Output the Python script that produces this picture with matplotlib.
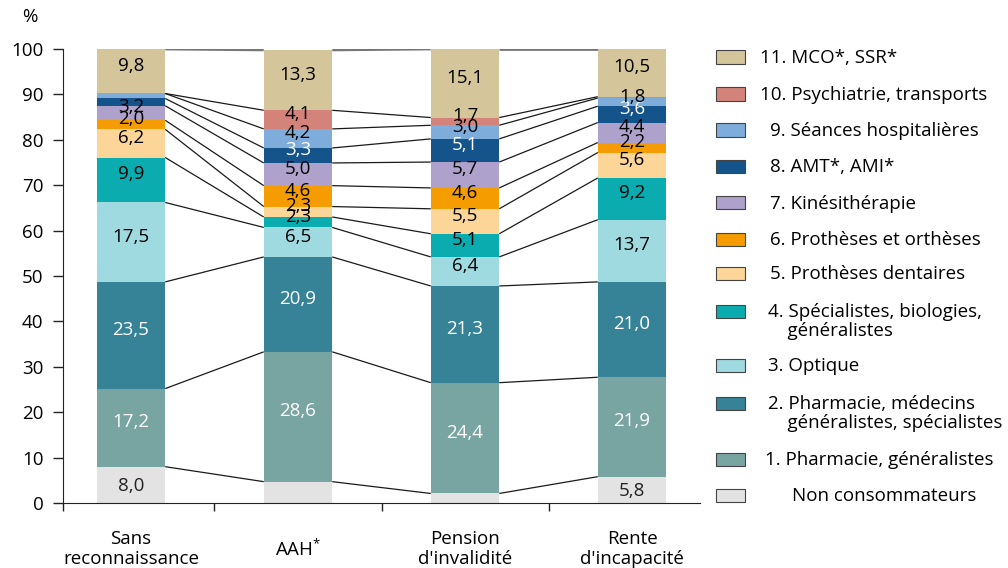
import numpy as np
import matplotlib
matplotlib.use("Agg")
import matplotlib.pyplot as plt
from matplotlib.patches import Rectangle

# ------------------ Données ------------------
categories = ["Sans\nreconnaissance", "AAH$^{*}$", "Pension\nd'invalidité", "Rente\nd'incapacité"]

# segments du bas vers le haut
groups = ["Non consommateurs", "1", "2", "3", "4", "5", "6", "7", "8", "9", "10", "11"]
sans_reco = [8.0, 17.2, 23.5, 17.5, 9.9, 6.2, 2.0, 3.2, 1.6, 1.1, 0.0, 9.8]
aah = [4.7, 28.6, 20.9, 6.5, 2.3, 2.3, 4.6, 5.0, 3.3, 4.2, 4.1, 13.3]
pension = [2.1, 24.4, 21.3, 6.4, 5.1, 5.5, 4.6, 5.7, 5.1, 3.0, 1.7, 15.1]
rente = [5.8, 21.9, 21.0, 13.7, 9.2, 5.6, 2.2, 4.4, 3.6, 1.8, 0.3, 10.5]

# valeurs affichées (None = pas d'étiquette)
labels_sans = ["8,0", "17,2", "23,5", "17,5", "9,9", "6,2", "2,0", "3,2", None, None, None, "9,8"]
labels_aah = [None, "28,6", "20,9", "6,5", "2,3", "2,3", "4,6", "5,0", "3,3", "4,2", "4,1", "13,3"]
labels_pension = [None, "24,4", "21,3", "6,4", "5,1", "5,5", "4,6", "5,7", "5,1", "3,0", "1,7", "15,1"]
labels_rente = ["5,8", "21,9", "21,0", "13,7", "9,2", "5,6", "2,2", "4,4", "3,6", "1,8", None, "10,5"]

colors = ["#e3e3e3", "#78a4a2", "#368398", "#a0dae1", "#0aacaf", "#fbd698",
          "#f59d00", "#aea1cb", "#14548a", "#7eaddb", "#d3837a", "#d5c59a"]
text_colors = ["#222222", "white", "white", "black", "black", "black",
               "black", "black", "white", "black", "black", "black"]

legend_labels = ["11. MCO*, SSR*", "10. Psychiatrie, transports", "9. Séances hospitalières",
                 "8. AMT*, AMI*", "7. Kinésithérapie", "6. Prothèses et orthèses",
                 "5. Prothèses dentaires", "4. Spécialistes, biologies,\n    généralistes",
                 "3. Optique", "2. Pharmacie, médecins\n    généralistes, spécialistes",
                 "1. Pharmacie, généralistes", "Non consommateurs"]

# ------------------ Figure ------------------
plt.rcParams['font.family'] = ['Open Sans', 'DejaVu Sans']
plt.rcParams['mathtext.fontset'] = 'custom'
plt.rcParams['mathtext.rm'] = 'Open Sans'
plt.rcParams['mathtext.it'] = 'Open Sans'
FS = 13.5

fig = plt.figure(figsize=(10.08, 5.68), dpi=100)
W, H = 1008, 568
ax = fig.add_axes([63 / W, 1 - 503 / H, (700 - 63) / W, (503 - 49) / H])

data = np.array([sans_reco, aah, pension, rente])
labels = [labels_sans, labels_aah, labels_pension, labels_rente]
x = np.arange(len(categories))
width = 0.41

bottoms = np.zeros(len(categories))
for k in range(len(groups)):
    vals = data[:, k]
    ax.bar(x, vals, width, bottom=bottoms, color=colors[k], edgecolor="none", zorder=2)
    dy = -1 if k == 0 else 4  # petit décalage vertical des étiquettes
    for i in range(len(categories)):
        if labels[i][k] is not None:
            ax.annotate(labels[i][k], (x[i], bottoms[i] + vals[i] / 2), xytext=(0, dy),
                        textcoords="offset points", ha="center", va="center",
                        fontsize=FS, color=text_colors[k], zorder=3)
    bottoms = bottoms + vals

# lignes de liaison entre les barres
cum = np.cumsum(data, axis=1)
for k in range(len(groups)):
    for i in range(len(categories) - 1):
        top = k == len(groups) - 1
        ax.plot([x[i] + width / 2, x[i + 1] - width / 2], [cum[i, k], cum[i + 1, k]],
                color="#777777" if top else "#1a1a1a", lw=2.0 if top else 0.9,
                zorder=1, solid_capstyle="butt")

ax.set_xlim(-0.407, 3.407)
ax.set_ylim(0, 100)
ax.set_yticks(np.arange(0, 101, 10))
ax.tick_params(axis="y", labelsize=FS, length=7, width=1, direction="out", pad=7, color="#222222")
ax.set_xticks(x)
ax.set_xticklabels(categories, fontsize=FS, linespacing=1.15)
ax.tick_params(axis="x", which="major", length=0, pad=33)
for lab in ax.get_xticklabels():
    lab.set_verticalalignment("center")
ax.set_xticks([-0.407, 0.5, 1.5, 2.5], minor=True)
ax.tick_params(axis="x", which="minor", length=6, width=1, direction="out", color="#222222")

for s in ["top", "right"]:
    ax.spines[s].set_visible(False)
ax.spines["left"].set_color("#222222")
ax.spines["bottom"].set_color("#222222")

fig.text(30 / W, 1 - 17 / H, "%", fontsize=FS, ha="center", va="center")

# ------------------ Légende ------------------
leg_y = [57, 94, 130, 166, 203, 239, 273, 311, 365, 403, 459, 495]
leg_x = [760, 760, 770, 770, 770, 770, 770, 768, 768, 768, 765, 792]
for k, (lab, yy, xx) in enumerate(zip(legend_labels, leg_y, leg_x)):
    col = colors[len(groups) - 1 - k]
    fig.patches.append(Rectangle((716 / W, 1 - (yy + 6.5) / H), 29 / W, 13 / H,
                                 facecolor=col, edgecolor="#444444", lw=0.8,
                                 transform=fig.transFigure))
    fig.text(xx / W, 1 - (yy - 8) / H, lab, fontsize=FS, ha="left", va="top",
             linespacing=1.1)

fig.savefig("out.png", dpi=100)
